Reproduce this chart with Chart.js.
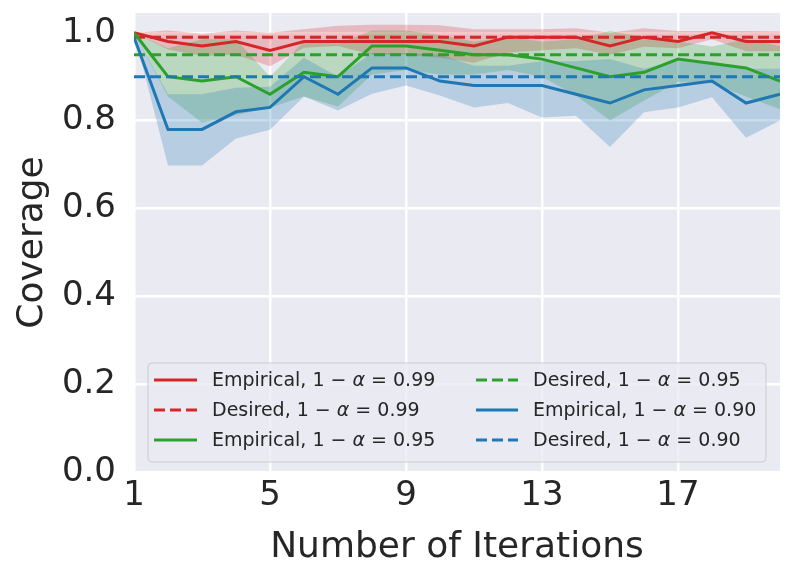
<!DOCTYPE html>
<html>
<head>
<meta charset="utf-8">
<title>Coverage vs iterations</title>
<script src="https://cdn.jsdelivr.net/npm/chart.js@4.4.1/dist/chart.umd.min.js"></script>
<style>
  html, body { margin: 0; padding: 0; background: #ffffff; }
  #wrap { width: 793px; height: 577px; }
</style>
</head>
<body>
<div id="wrap"><canvas id="chart" width="793" height="577"></canvas></div>
<script>
// Iterations on the x axis
const iterations = [1, 2, 3, 4, 5, 6, 7, 8, 9, 10, 11, 12, 13, 14, 15, 16, 17, 18, 19, 20];
const xTicks = [1, 5, 9, 13, 17];
const yTicks = [0, 0.2, 0.4, 0.6, 0.8, 1.0];

// 1 - alpha = 0.99
const empirical99 = [1.00, 0.98, 0.97, 0.98, 0.96, 0.98, 0.98, 0.98, 0.98, 0.98, 0.97, 0.99, 0.99, 0.99, 0.97, 0.99, 0.98, 1.00, 0.98, 0.98];
const lower99 = [1.00, 0.962, 0.947, 0.950, 0.924, 0.966, 0.970, 0.950, 0.950, 0.943, 0.932, 0.955, 0.960, 0.965, 0.950, 0.968, 0.965, 0.985, 0.958, 0.958];
const upper99 = [1.00, 1.005, 0.998, 1.005, 1.000, 1.008, 1.016, 1.018, 1.018, 1.017, 1.008, 1.008, 1.008, 1.010, 1.000, 1.010, 1.004, 1.004, 1.004, 1.003];

// 1 - alpha = 0.95
const empirical95 = [1.00, 0.90, 0.89, 0.90, 0.86, 0.91, 0.90, 0.97, 0.97, 0.96, 0.95, 0.95, 0.94, 0.92, 0.90, 0.91, 0.94, 0.93, 0.92, 0.89];
const lower95 = [1.00, 0.855, 0.795, 0.812, 0.830, 0.855, 0.832, 0.905, 0.915, 0.905, 0.905, 0.915, 0.900, 0.857, 0.800, 0.846, 0.888, 0.885, 0.855, 0.826];
const upper95 = [1.00, 0.965, 0.985, 0.985, 0.900, 0.980, 0.975, 1.005, 1.005, 0.995, 0.980, 0.990, 0.980, 0.985, 1.004, 0.990, 0.980, 0.969, 0.985, 0.970];

// 1 - alpha = 0.90
const empirical90 = [0.99, 0.78, 0.78, 0.82, 0.83, 0.90, 0.86, 0.92, 0.92, 0.89, 0.88, 0.88, 0.88, 0.86, 0.84, 0.87, 0.88, 0.89, 0.84, 0.86];
const lower90 = [1.00, 0.698, 0.698, 0.759, 0.779, 0.855, 0.823, 0.861, 0.880, 0.857, 0.830, 0.840, 0.807, 0.811, 0.740, 0.819, 0.830, 0.853, 0.761, 0.800];
const upper90 = [1.00, 0.860, 0.860, 0.875, 0.877, 0.943, 0.900, 0.954, 0.954, 0.950, 0.925, 0.925, 0.935, 0.935, 0.940, 0.918, 0.937, 0.935, 0.918, 0.918];

const levels = ['0.99', '0.95', '0.90'];
const desired = [0.99, 0.95, 0.90];
const colors = ['#d62728', '#2ca02c', '#1f77b4'];
const fills = ['rgba(214,39,40,0.25)', 'rgba(44,160,44,0.25)', 'rgba(31,119,180,0.25)'];

const FONT = "'DejaVu Sans', sans-serif";
const TEXT = '#262626';

const toPoints = arr => arr.map((y, i) => ({ x: iterations[i], y: y }));

// bands go under every line; lower order is drawn on top in Chart.js
const groups = [
  { emp: empirical99, lo: lower99, hi: upper99 },
  { emp: empirical95, lo: lower95, hi: upper95 },
  { emp: empirical90, lo: lower90, hi: upper90 }
];
const datasets = [];
let seq = 0;
groups.forEach((g, k) => {
  const loIndex = datasets.length;
  datasets.push({
    data: toPoints(g.lo), borderWidth: 0, borderColor: 'transparent',
    pointRadius: 0, fill: false, order: 300 - k
  });
  datasets.push({
    data: toPoints(g.hi), borderWidth: 0, borderColor: 'transparent',
    pointRadius: 0, fill: { target: loIndex }, backgroundColor: fills[k], order: 200 - k
  });
  datasets.push({
    data: toPoints(g.emp), borderColor: colors[k], borderWidth: 3,
    pointRadius: 0, fill: false, tension: 0, order: 100 - seq++
  });
  datasets.push({
    data: [{ x: iterations[0], y: desired[k] }, { x: iterations[iterations.length - 1], y: desired[k] }],
    borderColor: colors[k], borderWidth: 3, borderDash: [11, 5],
    pointRadius: 0, fill: false, order: 100 - seq++
  });
});

// legend entries, column-major as in the original
const legendItems = [
  { color: colors[0], dash: false, label: 'Empirical, ', level: levels[0] },
  { color: colors[0], dash: true, label: 'Desired, ', level: levels[0] },
  { color: colors[1], dash: false, label: 'Empirical, ', level: levels[1] },
  { color: colors[1], dash: true, label: 'Desired, ', level: levels[1] },
  { color: colors[2], dash: false, label: 'Empirical, ', level: levels[2] },
  { color: colors[2], dash: true, label: 'Desired, ', level: levels[2] }
];

const plotBackground = {
  id: 'plotBackground',
  beforeDraw(chart) {
    const { ctx, chartArea: a } = chart;
    ctx.save();
    ctx.fillStyle = '#eaeaf2';
    ctx.fillRect(a.left, a.top, a.right - a.left, a.bottom - a.top);
    ctx.restore();
  }
};

const twoColumnLegend = {
  id: 'twoColumnLegend',
  afterDraw(chart) {
    const ctx = chart.ctx;
    const box = { x: 148, y: 363, w: 618, h: 99 };
    ctx.save();
    ctx.beginPath();
    ctx.roundRect(box.x, box.y, box.w, box.h, 4);
    ctx.fillStyle = 'rgba(234,234,242,0.8)';
    ctx.fill();
    ctx.strokeStyle = '#cccccc';
    ctx.lineWidth = 1;
    ctx.stroke();

    const rowY = [380, 410, 440];
    const cols = [{ h0: 154, h1: 197, tx: 212 }, { h0: 476, h1: 518, tx: 533 }];
    const normal = '19px ' + FONT;
    const italic = 'italic 19px ' + FONT;
    ctx.textBaseline = 'middle';
    legendItems.forEach((item, i) => {
      const col = cols[Math.floor(i / 3)];
      const y = rowY[i % 3];
      ctx.beginPath();
      ctx.setLineDash(item.dash ? [11, 5] : []);
      ctx.strokeStyle = item.color;
      ctx.lineWidth = 3;
      ctx.moveTo(col.h0, y);
      ctx.lineTo(col.h1, y);
      ctx.stroke();
      ctx.setLineDash([]);

      ctx.fillStyle = TEXT;
      let x = col.tx;
      const parts = [
        [item.label + '1 \u2212 ', normal],
        ['\u03b1', italic],
        [' = ' + item.level, normal]
      ];
      parts.forEach(([t, f]) => {
        ctx.font = f;
        ctx.fillText(t, x, y + 1);
        x += ctx.measureText(t).width;
      });
    });
    ctx.restore();
  }
};

new Chart(document.getElementById('chart'), {
  type: 'line',
  data: { datasets: datasets },
  plugins: [plotBackground, twoColumnLegend],
  options: {
    responsive: false,
    animation: false,
    events: [],
    layout: { padding: { top: 13, right: 13, left: 0, bottom: 0 } },
    plugins: {
      legend: { display: false },
      tooltip: { enabled: false },
      filler: { propagate: false }
    },
    scales: {
      x: {
        type: 'linear',
        min: 1,
        max: 20,
        afterBuildTicks: scale => { scale.ticks = xTicks.map(v => ({ value: v })); },
        afterFit: scale => {
          scale.height = 105;
          scale.paddingLeft = 0;
          scale.paddingRight = 0;
        },
        ticks: { color: TEXT, font: { family: FONT, size: 34 }, padding: 4, maxRotation: 0 },
        grid: { color: '#ffffff', lineWidth: 2.5, drawTicks: false },
        border: { display: false },
        title: {
          display: true, text: 'Number of Iterations', color: TEXT,
          font: { family: FONT, size: 36 }, padding: { top: 0, bottom: 8 }
        }
      },
      y: {
        min: 0,
        max: 1.045,
        afterBuildTicks: scale => { scale.ticks = yTicks.map(v => ({ value: v })); },
        afterFit: scale => {
          scale.width = 134;
          scale.paddingTop = 0;
          scale.paddingBottom = 0;
        },
        ticks: { color: TEXT, font: { family: FONT, size: 34 }, padding: 18, callback: v => v.toFixed(1) },
        grid: { color: '#ffffff', lineWidth: 2.5, drawTicks: false },
        border: { display: false },
        title: {
          display: true, text: 'Coverage', color: TEXT,
          font: { family: FONT, size: 36 }, padding: { top: 11, bottom: 0 }
        }
      }
    }
  }
});
</script>
</body>
</html>
